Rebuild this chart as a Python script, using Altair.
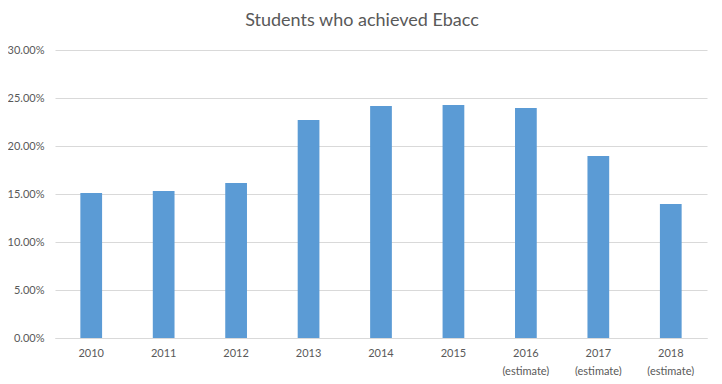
import altair as alt
import pandas as pd

years = ["2010", "2011", "2012", "2013", "2014", "2015",
         "2016 (estimate)", "2017 (estimate)", "2018 (estimate)"]
values = [0.151, 0.153, 0.1615, 0.227, 0.2417, 0.2427, 0.2396, 0.1896, 0.1396]
y_ticks = [0, 0.05, 0.10, 0.15, 0.20, 0.25, 0.30]

df = pd.DataFrame({"year": years, "value": values})

FONT = "Lato"
GREY = "#595959"

chart = alt.Chart(df).mark_bar(color="#5B9BD5").encode(
    x=alt.X("year:N", sort=years, title=None,
            scale=alt.Scale(paddingInner=0.7, paddingOuter=0.35),
            axis=alt.Axis(labelAngle=0, labelExpr="split(datum.label, ' ')",
                          ticks=False, domain=True, domainColor="#D9D9D9",
                          labelColor=GREY, labelFont=FONT, labelFontSize=11,
                          labelPadding=9, labelLineHeight=18)),
    y=alt.Y("value:Q", title=None,
            scale=alt.Scale(domain=[0, 0.30], nice=False),
            axis=alt.Axis(values=y_ticks, format=".2%", ticks=False, domain=False,
                          grid=True, gridColor="#D9D9D9", labelColor=GREY,
                          labelFont=FONT, labelFontSize=11, labelPadding=11)),
).properties(
    width=652, height=288,
    background="white",
    autosize=alt.AutoSizeParams(type="none"),
    padding={"left": 47, "top": 42, "right": 7, "bottom": 38},
    title=alt.TitleParams("Students who achieved Ebacc", font=FONT, fontSize=18,
                          fontWeight="normal", color=GREY, anchor="middle",
                          dx=-19, offset=14),
).configure_view(strokeWidth=0, stroke="transparent")

chart.save("out.html", embed_options={"renderer": "svg", "actions": False})
